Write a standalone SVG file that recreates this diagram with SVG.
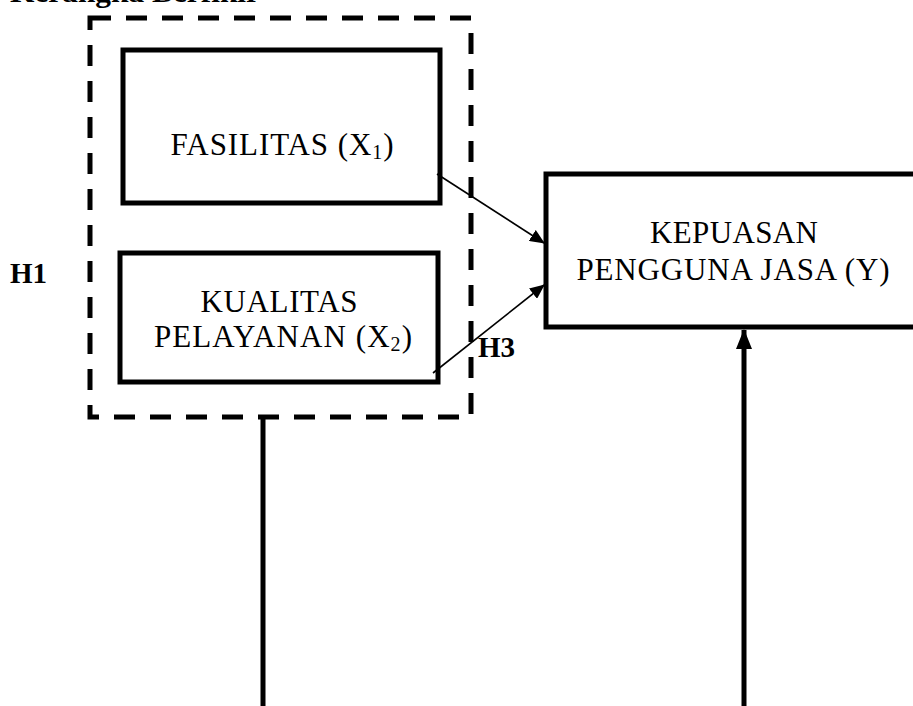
<svg xmlns="http://www.w3.org/2000/svg" width="913" height="706" viewBox="0 0 913 706">
<defs>
<style>
.box{fill:#fff;stroke:#000;stroke-width:5}
.lbl{font-family:"Liberation Serif","Times New Roman",serif;font-size:31px;fill:#000;text-anchor:middle}
.bold{font-family:"Liberation Serif","Times New Roman",serif;font-weight:bold;fill:#000}
.thin{stroke:#000;stroke-width:1.6;fill:none}
.thick{stroke:#000;stroke-width:5;fill:none}
.sub{font-size:20px}
</style>
<marker id="ah" markerWidth="15" markerHeight="13" refX="14" refY="6.5" orient="auto" markerUnits="userSpaceOnUse">
<path d="M0,0 L15,6.5 L0,13 Z" fill="#000"/>
</marker>
<marker id="ahBig" markerWidth="20" markerHeight="16" refX="19" refY="8" orient="auto" markerUnits="userSpaceOnUse">
<path d="M0,0 L20,8 L0,16 Z" fill="#000"/>
</marker>
</defs>
<rect width="913" height="706" fill="#fff"/>
<text class="bold" x="10" y="2" font-size="30" textLength="250" lengthAdjust="spacingAndGlyphs">Kerangka Berfikir</text>

<g id="group-x">
<rect x="90" y="18" width="381" height="399" fill="none" stroke="#000" stroke-width="5" stroke-dasharray="21 15"/>
</g>

<g id="fasilitas">
<rect class="box" x="123" y="50" width="317" height="153"/>
<text class="lbl" x="282" y="155" textLength="223" lengthAdjust="spacing">FASILITAS (X<tspan class="sub" dy="4">1</tspan><tspan dy="-4">)</tspan></text>
</g>

<g id="kualitas">
<rect class="box" x="120" y="253" width="318" height="129"/>
<text class="lbl" x="279" y="312" textLength="157" lengthAdjust="spacing">KUALITAS</text>
<text class="lbl" x="283" y="347" textLength="258" lengthAdjust="spacing">PELAYANAN (X<tspan class="sub" dy="4">2</tspan><tspan dy="-4">)</tspan></text>
</g>

<g id="kepuasan">
<rect class="box" x="546" y="174" width="380" height="153"/>
<text class="lbl" x="734" y="243" textLength="168" lengthAdjust="spacing">KEPUASAN</text>
<text class="lbl" x="733" y="280" textLength="313" lengthAdjust="spacing">PENGGUNA JASA (Y)</text>
</g>

<g id="labels">
<text class="bold" x="10" y="283" font-size="29">H1</text>
<text class="bold" x="478" y="357" font-size="29">H3</text>
</g>

<g id="connectors">
<line class="thin" x1="437" y1="174" x2="544" y2="243" marker-end="url(#ah)"/>
<line class="thin" x1="433" y1="373" x2="544" y2="285" marker-end="url(#ah)"/>
<line class="thick" x1="263" y1="417" x2="263" y2="706"/>
<line class="thick" x1="744" y1="706" x2="744" y2="330" marker-end="url(#ahBig)"/>
</g>
</svg>
